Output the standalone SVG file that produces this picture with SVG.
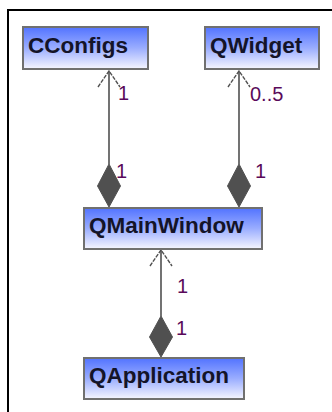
<svg xmlns="http://www.w3.org/2000/svg" width="332" height="412" viewBox="0 0 332 412">
  <defs>
    <linearGradient id="classFill" x1="0" y1="0" x2="0" y2="1">
      <stop offset="0" stop-color="#5273ff"/>
      <stop offset="0.5" stop-color="#9aadff"/>
      <stop offset="1" stop-color="#f6f6ff"/>
    </linearGradient>
  </defs>
  <style>
    .frame { stroke: #000; stroke-width: 2; fill: none; }
    .cls { fill: url(#classFill); stroke: #707070; stroke-width: 2; }
    .name { font-family: "Liberation Sans", Arial, sans-serif; font-weight: bold; font-size: 22.5px; fill: #141428; }
    .link { stroke: #5a5a5a; stroke-width: 1.7; fill: none; }
    .head { stroke: #505050; stroke-width: 1.4; fill: none; stroke-dasharray: 4 1.2; }
    .diamond { fill: #505050; stroke: #505050; stroke-width: 1; }
    .mult { font-family: "Liberation Sans", Arial, sans-serif; font-size: 20px; fill: #5a0a5a; }
  </style>

  <rect width="332" height="412" fill="#fff"/>
  <!-- outer frame (top and left edges) -->
  <path class="frame" d="M8 412 V10 H332"/>

  <!-- associations -->
  <g id="connectors">
    <!-- QMainWindow aggregates CConfigs -->
    <line class="link" x1="109" y1="71" x2="109" y2="164"/>
    <path class="head" d="M98 87 L109 71 L120 87"/>
    <polygon class="diamond" points="109,164 120.5,186 109,207 97.5,186"/>
    <text class="mult" x="118" y="100">1</text>
    <text class="mult" x="116" y="178">1</text>

    <!-- QMainWindow aggregates QWidget -->
    <line class="link" x1="239" y1="71" x2="239" y2="164"/>
    <path class="head" d="M228 87 L239 71 L250 87"/>
    <polygon class="diamond" points="239,164 250.5,186 239,207 227.5,186"/>
    <text class="mult" x="250" y="101">0..5</text>
    <text class="mult" x="255" y="178">1</text>

    <!-- QApplication aggregates QMainWindow -->
    <line class="link" x1="161" y1="250" x2="161" y2="316"/>
    <path class="head" d="M150 266 L161 250 L172 266"/>
    <polygon class="diamond" points="161,316 172.5,337 161,357 149.5,337"/>
    <text class="mult" x="177" y="293">1</text>
    <text class="mult" x="176" y="335">1</text>
  </g>

  <g id="CConfigs">
    <rect class="cls" x="23" y="27" width="125" height="42"/>
    <text class="name" x="28" y="53">CConfigs</text>
  </g>

  <g id="QWidget">
    <rect class="cls" x="205" y="27" width="114" height="42"/>
    <text class="name" x="210" y="53">QWidget</text>
  </g>

  <g id="QMainWindow">
    <rect class="cls" x="84" y="208" width="178" height="41"/>
    <text class="name" x="89" y="233">QMainWindow</text>
  </g>

  <g id="QApplication">
    <rect class="cls" x="84" y="358" width="160" height="41"/>
    <text class="name" x="89" y="383">QApplication</text>
  </g>
</svg>
